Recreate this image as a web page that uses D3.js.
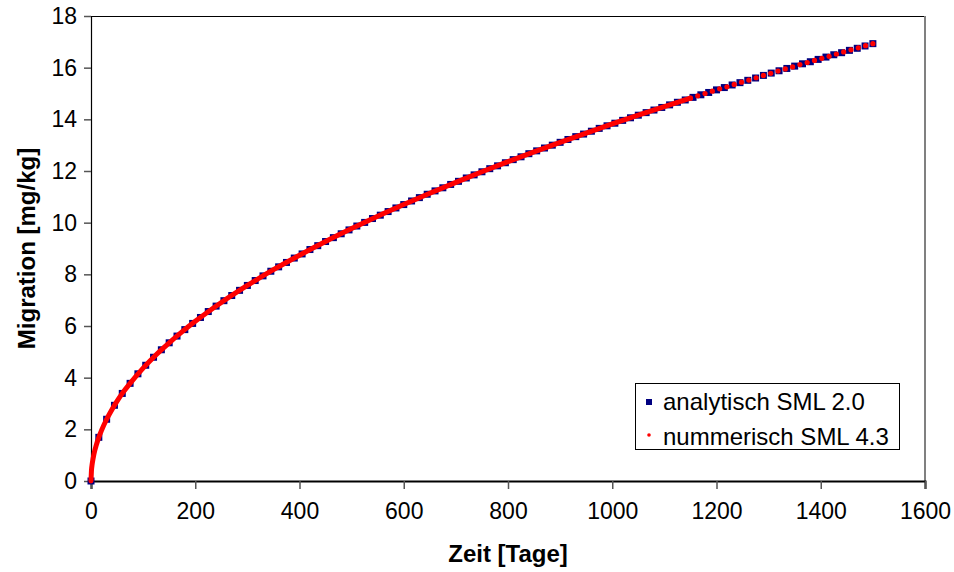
<!DOCTYPE html>
<html>
<head>
<meta charset="utf-8">
<script src="https://cdn.jsdelivr.net/npm/d3@7"></script>
<style>
  body { margin: 0; background: #fff; }
  text { font-family: "Liberation Sans", Arial, sans-serif; }
</style>
</head>
<body>
<div id="chart"></div>
<script>
// analytisch SML 2.0 - Tage und Werte (alle 15 Tage)
const analytTage = [
  0, 15, 30, 45, 60, 75, 90, 105, 120, 135, 150, 165, 180, 195, 210, 225, 240, 255, 270, 285,
  300, 315, 330, 345, 360, 375, 390, 405, 420, 435, 450, 465, 480, 495, 510, 525, 540, 555, 570, 585,
  600, 615, 630, 645, 660, 675, 690, 705, 720, 735, 750, 765, 780, 795, 810, 825, 840, 855, 870, 885,
  900, 915, 930, 945, 960, 975, 990, 1005, 1020, 1035, 1050, 1065, 1080, 1095, 1110, 1125, 1140, 1155, 1170, 1185,
  1200, 1215, 1230, 1245, 1260, 1275, 1290, 1305, 1320, 1335, 1350, 1365, 1380, 1395, 1410, 1425, 1440, 1455, 1470, 1485,
  1500
];
const analytWerte = [
  0, 1.69, 2.39, 2.93, 3.39, 3.78, 4.15, 4.48, 4.79, 5.08, 5.35, 5.61, 5.86, 6.10, 6.33, 6.56, 6.77, 6.98, 7.18, 7.38,
  7.57, 7.76, 7.94, 8.12, 8.29, 8.46, 8.63, 8.79, 8.96, 9.11, 9.27, 9.42, 9.57, 9.72, 9.87, 10.01, 10.16, 10.29, 10.43, 10.57,
  10.70, 10.84, 10.97, 11.10, 11.23, 11.35, 11.48, 11.60, 11.73, 11.85, 11.97, 12.09, 12.20, 12.32, 12.44, 12.55, 12.67, 12.78, 12.89, 13.00,
  13.11, 13.22, 13.33, 13.43, 13.54, 13.65, 13.75, 13.85, 13.96, 14.06, 14.16, 14.26, 14.36, 14.46, 14.56, 14.66, 14.75, 14.85, 14.95, 15.04,
  15.14, 15.23, 15.33, 15.42, 15.51, 15.60, 15.70, 15.79, 15.88, 15.97, 16.06, 16.15, 16.23, 16.32, 16.41, 16.50, 16.58, 16.67, 16.75, 16.84,
  16.93
];

// nummerisch SML 4.3 - dichte Zeitschritte am Anfang
const numDichtTage = [0, 1, 2, 4, 7, 10, 15, 20, 30, 40, 50, 60, 75, 100, 125, 150, 175, 200, 250, 300,
  350, 400, 450, 500, 550, 600, 650, 700, 750, 800, 850, 900, 950, 1000, 1050, 1100, 1150];
const numDichtWerte = [0, 0.44, 0.62, 0.87, 1.16, 1.38, 1.69, 1.95, 2.39, 2.76, 3.09, 3.39, 3.78, 4.37, 4.89, 5.35, 5.78, 6.18, 6.91, 7.57,
  8.18, 8.74, 9.27, 9.77, 10.25, 10.70, 11.14, 11.56, 11.97, 12.36, 12.74, 13.11, 13.47, 13.82, 14.16, 14.49, 14.82];
// nummerisch SML 4.3 - spaetere Zeitschritte (einzelne Punkte sichtbar)
const numTage = [1150, 1164, 1178, 1192, 1206, 1220, 1234, 1248, 1262, 1276, 1290, 1304, 1318, 1332, 1346,
  1360, 1374, 1388, 1402, 1416, 1430, 1444, 1458, 1472, 1486, 1500];
const numWerte = [14.82, 14.91, 15.00, 15.09, 15.18, 15.26, 15.35, 15.44, 15.52, 15.61, 15.70, 15.78, 15.87, 15.95, 16.03,
  16.12, 16.20, 16.28, 16.36, 16.44, 16.53, 16.61, 16.69, 16.77, 16.85, 16.93];

const xTicks = [0, 200, 400, 600, 800, 1000, 1200, 1400, 1600];
const yTicks = [0, 2, 4, 6, 8, 10, 12, 14, 16, 18];
const legendNamen = ["analytisch SML 2.0", "nummerisch SML 4.3"];

const margin = {top: 16, right: 29, bottom: 91, left: 91};
const width = 954 - margin.left - margin.right;
const height = 572 - margin.top - margin.bottom;

const root = d3.select("#chart").append("svg")
    .attr("width", 954)
    .attr("height", 572);
const svg = root.append("g")
    .attr("transform", "translate(" + margin.left + "," + margin.top + ")");

const x = d3.scaleLinear().domain([0, 1600]).range([0, width]);
const y = d3.scaleLinear().domain([0, 18]).range([height, 0]);

// Rahmen oben und rechts
svg.append("line").attr("x1", 0).attr("x2", width).attr("y1", 0.5).attr("y2", 0.5)
    .attr("stroke", "#000").attr("stroke-width", 1);
svg.append("line").attr("x1", width).attr("x2", width).attr("y1", 0).attr("y2", height)
    .attr("stroke", "#808080").attr("stroke-width", 2);

// X Achse
const xAxis = svg.append("g")
    .attr("transform", "translate(0," + height + ")")
    .call(d3.axisBottom(x).tickValues(xTicks).tickSize(8).tickPadding(14).tickFormat(d3.format("d")));
xAxis.select(".domain").attr("stroke", "#000").attr("stroke-width", 2);
xAxis.selectAll(".tick line").attr("stroke", "#555").attr("stroke-width", 1.5);
xAxis.selectAll("text").attr("font-size", 23).attr("fill", "#000")
    .style("font-family", "'Liberation Sans', Arial, sans-serif");

// Y Achse
const yAxis = svg.append("g")
    .call(d3.axisLeft(y).tickValues(yTicks).tickSize(7).tickPadding(7).tickFormat(d3.format("d")));
yAxis.select(".domain").attr("stroke", "#000").attr("stroke-width", 1.2);
yAxis.selectAll(".tick line").attr("stroke", "#555").attr("stroke-width", 1.5);
yAxis.selectAll("text").attr("font-size", 23).attr("fill", "#000")
    .style("font-family", "'Liberation Sans', Arial, sans-serif");

// Achsentitel
root.append("text")
    .attr("x", margin.left + width / 2)
    .attr("y", 562)
    .attr("text-anchor", "middle")
    .attr("font-size", 24)
    .attr("font-weight", "bold")
    .text("Zeit [Tage]");
root.append("text")
    .attr("transform", "translate(35," + (margin.top + height / 2) + ") rotate(-90)")
    .attr("text-anchor", "middle")
    .attr("font-size", 24)
    .attr("font-weight", "bold")
    .text("Migration [mg/kg]");

// analytisch: blaue Quadrate
const analyt = analytTage.map((t, i) => ({t: t, v: analytWerte[i]}));
svg.selectAll(".sq")
    .data(analyt)
    .enter()
    .append("rect")
      .attr("class", "sq")
      .attr("x", d => x(d.t) - 3.5)
      .attr("y", d => y(d.v) - 3.5)
      .attr("width", 7)
      .attr("height", 7)
      .attr("fill", "#000080");

// nummerisch: dichte Punkte als dicke Linie, danach einzelne Punkte
const dicht = numDichtTage.map((t, i) => ({t: t, v: numDichtWerte[i]}));
svg.append("path")
    .datum(dicht)
    .attr("fill", "none")
    .attr("stroke", "#ff0000")
    .attr("stroke-width", 5)
    .attr("stroke-linecap", "round")
    .attr("d", d3.line().x(d => x(d.t)).y(d => y(d.v)).curve(d3.curveMonotoneX));

const num = numTage.map((t, i) => ({t: t, v: numWerte[i]}));
svg.selectAll(".dot")
    .data(num)
    .enter()
    .append("circle")
      .attr("class", "dot")
      .attr("cx", d => x(d.t))
      .attr("cy", d => y(d.v))
      .attr("r", 2.6)
      .attr("fill", "#ff0000");

// Legende
const legend = root.append("g").attr("transform", "translate(635,383)");
legend.append("rect")
    .attr("x", 0.5).attr("y", 0.5)
    .attr("width", 264).attr("height", 66)
    .attr("fill", "#fff")
    .attr("stroke", "#000")
    .attr("stroke-width", 1);
legend.append("rect")
    .attr("x", 11).attr("y", 16)
    .attr("width", 6).attr("height", 6)
    .attr("fill", "#000080");
legend.append("circle")
    .attr("cx", 14).attr("cy", 52)
    .attr("r", 1.8)
    .attr("fill", "#ff0000");
legend.selectAll(".ltext")
    .data(legendNamen)
    .enter()
    .append("text")
      .attr("class", "ltext")
      .attr("x", 28)
      .attr("y", (d, i) => 27 + i * 35)
      .attr("font-size", 24)
      .text(d => d);
</script>
</body>
</html>
